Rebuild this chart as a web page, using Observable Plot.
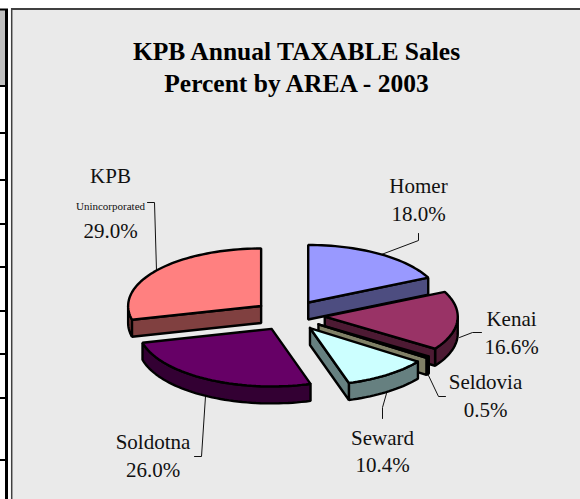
<!DOCTYPE html>
<html>
<head>
<meta charset="utf-8">
<script src="https://cdn.jsdelivr.net/npm/d3@7"></script>
<script src="https://cdn.jsdelivr.net/npm/@observablehq/plot@0.6"></script>
<style>
html,body{margin:0;padding:0;background:#fff;overflow:hidden}
svg{display:block}
</style>
</head>
<body>
<div id="chart"></div>
<script>
// Data
const areas = ["Homer", "Kenai", "Seldovia", "Seward", "Soldotna", "KPB"];
const shares = [18.0, 16.6, 0.5, 10.4, 26.0, 29.0];
const topColors = ["#9999ff", "#993366", "#ffffcc", "#ccffff", "#660066", "#ff8080"];
const wallColors = ["#4d4d80", "#4d1a33", "#808066", "#668080", "#330033", "#804040"];
const titleLines = ["KPB Annual TAXABLE Sales", "Percent by AREA - 2003"];

// Layout of the picture (page pixels)
const W = 580, H = 499;
const pie = {cx: 288.7, cy: 315, rx: 133, ry: 57.5, depth: 17, explode: 0.268};
const drawOrder = ["Homer", "Kenai", "Seldovia", "Seward", "KPB", "Soldotna"];
const labelPlace = {
  Homer:    {x: 418, y: [192, 220]},
  Kenai:    {x: 511, y: [325, 353]},
  Seldovia: {x: 485, y: [388, 416]},
  Seward:   {x: 382, y: [444, 471]},
  Soldotna: {x: 152.5, y: [448, 476]},
  KPB:      {x: 110, y: [182, 237]}
};
const leaders = [
  [[147, 202], [154, 202], [156, 270]],
  [[418, 233], [418, 240], [381, 254]],
  [[481, 332], [472, 332], [459, 337]],
  [[445, 396], [438, 396], [428, 375]],
  [[382, 418], [382, 407], [386, 393]],
  [[194, 456], [201, 456], [205, 396]]
];
const tableRows = [9, 85.5, 132.5, 179.5, 223.5, 266.5, 310.5, 353.5, 397.5, 459.5];

// Pie geometry derived from the shares
const total = d3.sum(shares);
const rad = d => d * Math.PI / 180;
const rim = (a, o, dz = 0) => [o[0] + pie.rx * Math.sin(rad(a)), o[1] - pie.ry * Math.cos(rad(a)) + dz];
const arc = (a0, a1, o, dz = 0) => {
  const n = Math.max(2, Math.ceil((a1 - a0) / 2));
  return d3.range(n + 1).map(i => rim(a0 + (a1 - a0) * i / n, o, dz));
};
let run = 0;
const slices = areas.map((name, i) => {
  const a0 = run; run += shares[i] / total * 360; const a1 = run;
  const m = (a0 + a1) / 2;
  const apex = [pie.cx + pie.explode * pie.rx * Math.sin(rad(m)), pie.cy - pie.explode * pie.ry * Math.cos(rad(m))];
  return {name, a0, a1, apex, top: topColors[i], wall: wallColors[i]};
});
const poly = pts => [...pts, pts[0]];
const polyMark = (pts, fill) => Plot.line(poly(pts), {x: d => d[0], y: d => d[1], fill, stroke: "#000", strokeWidth: 2.4, strokeLinejoin: "miter", curve: "linear"});
const sliceMarks = drawOrder.flatMap(name => {
  const s = slices.find(d => d.name === name);
  const ms = [];
  const lo = Math.max(s.a0, 90), hi = Math.min(s.a1, 270);
  if (hi > lo) ms.push(polyMark([...arc(lo, hi, s.apex), ...arc(lo, hi, s.apex, pie.depth).reverse()], s.wall));
  for (const a of [s.a0 > 180 ? s.a0 : null, s.a1 < 180 ? s.a1 : null]) {
    if (a === null) continue;
    const p = rim(a, s.apex);
    ms.push(polyMark([s.apex, p, [p[0], p[1] + pie.depth], [s.apex[0], s.apex[1] + pie.depth]], s.wall));
  }
  ms.push(polyMark([s.apex, ...arc(s.a0, s.a1, s.apex)], s.top));
  return ms;
});

// Label rows
const labelRows = areas.flatMap((name, i) => {
  const p = labelPlace[name];
  return [{x: p.x, y: p.y[0], t: name}, {x: p.x, y: p.y[1], t: shares[i].toFixed(1) + "%"}];
});

const serif = "'Liberation Serif','Times New Roman',serif";
const chart = Plot.plot({
  width: W, height: H,
  margin: 0,
  x: {domain: [0, W], range: [0, W], axis: null},
  y: {domain: [0, H], range: [0, H], axis: null},
  style: {background: "#fff"},
  marks: [
    // neighbouring table column on the left
    Plot.rect([0], {x1: 0, x2: 5.5, y1: 10, y2: 85, fill: "#c0c0c0"}),
    Plot.ruleY(tableRows, {x1: 0, x2: 8, stroke: "#000", strokeWidth: 2}),
    Plot.ruleX([6], {y1: 9, y2: H, stroke: "#000", strokeWidth: 3}),
    // chart area
    Plot.rect([0], {x1: 12, x2: W, y1: 9, y2: H, fill: "#eaeaea"}),
    Plot.ruleX([11.2], {y1: 8, y2: H, stroke: "#404040", strokeWidth: 1.5}),
    Plot.ruleY([8.5], {x1: 11, x2: W, stroke: "#404040", strokeWidth: 2}),
    // leader lines
    ...leaders.map(l => Plot.line(l, {x: d => d[0], y: d => d[1], stroke: "#111", strokeWidth: 1, curve: "linear"})),
    ...sliceMarks,
    // title
    Plot.text(titleLines, {x: 296, y: (d, i) => 59 + i * 32, text: d => d, lineAnchor: "bottom", textAnchor: "middle", fontFamily: serif, fontWeight: "bold", fontSize: 25.5, fill: "#000"}),
    // labels
    Plot.text(labelRows, {x: "x", y: "y", text: "t", lineAnchor: "bottom", textAnchor: "middle", fontFamily: serif, fontSize: 21, fill: "#111"}),
    Plot.text(["Unincorporated"], {x: 110, y: 209, text: d => d, lineAnchor: "bottom", textAnchor: "middle", fontFamily: serif, fontSize: 11, fill: "#111"})
  ]
});
document.getElementById("chart").appendChild(chart);
</script>
</body>
</html>
